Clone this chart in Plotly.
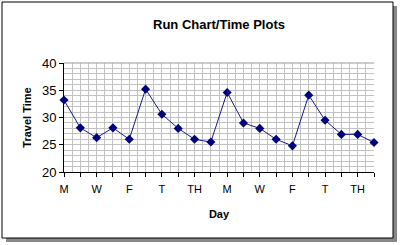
import plotly.graph_objects as go

days = ["M", "T", "W", "TH", "F"] * 4
travel_time = [33.2, 28.1, 26.3, 28.1, 26.0, 35.2, 30.6, 28.0, 26.0, 25.5,
               34.6, 29.0, 28.0, 26.0, 24.8, 34.1, 29.5, 26.9, 26.9, 25.4]
x_idx = list(range(len(days)))

W, H = 400, 245
L, R, T, B = 64, 26, 63, 73
pw, ph = W - L - R, H - T - B

def px(x):
    return (x - L) / pw

def py(y):
    return (H - B - y) / ph

fig = go.Figure()
fig.add_trace(go.Scatter(
    x=x_idx, y=travel_time, mode="lines+markers",
    line=dict(color="#1a1a8c", width=1),
    marker=dict(symbol="diamond", size=7, color="#000080"),
    showlegend=False, cliponaxis=False,
))

font = "Liberation Sans, Arial, sans-serif"
fig.update_layout(
    width=W, height=H,
    margin=dict(l=L, r=R, t=T, b=B),
    paper_bgcolor="white", plot_bgcolor="#e6e6e6",
    font=dict(family=font, size=11, color="black"),
    title=dict(text="<b>Run Chart/Time Plots</b>", x=0.5, xref="paper",
               y=1 - 24 / H, yanchor="middle", font=dict(size=13)),
    xaxis=dict(
        range=[0, 19], tickmode="array", tickvals=x_idx,
        ticktext=[d if i % 2 == 0 else "" for i, d in enumerate(days)],
        ticks="outside", ticklen=4, tickcolor="black", ticklabelstandoff=3,
        showline=True, linecolor="black", linewidth=1, mirror=False,
        showgrid=True, gridcolor="#c2c2c2", gridwidth=1,
        minor=dict(dtick=0.5, tick0=0, showgrid=True, gridcolor="#c2c2c2", gridwidth=1),
        zeroline=False,
        title=dict(text="<b>Day</b>", font=dict(size=11), standoff=16),
        tickfont=dict(size=11),
    ),
    yaxis=dict(
        range=[20, 40], tickvals=[20, 25, 30, 35, 40],
        ticks="outside", ticklen=4, tickcolor="black",
        showline=True, linecolor="black", linewidth=1,
        showgrid=True, gridcolor="#c2c2c2", gridwidth=1,
        minor=dict(dtick=1, showgrid=True, gridcolor="#c2c2c2", gridwidth=1),
        zeroline=False,
        title=dict(text="<b>Travel Time</b>", font=dict(size=11), standoff=8),
        tickfont=dict(size=13),
    ),
    shapes=[
        dict(type="rect", xref="paper", yref="paper",
             x0=px(6), x1=px(397), y0=py(242), y1=py(6),
             fillcolor="#888888", line=dict(width=0), layer="below"),
        dict(type="rect", xref="paper", yref="paper",
             x0=px(2), x1=px(393), y0=py(238), y1=py(2),
             fillcolor="white", line=dict(color="black", width=1), layer="below"),
        dict(type="line", xref="paper", yref="paper",
             x0=0, x1=1, y0=1, y1=1, line=dict(color="#999999", width=1)),
    ],
)

fig.write_html("out.html")
